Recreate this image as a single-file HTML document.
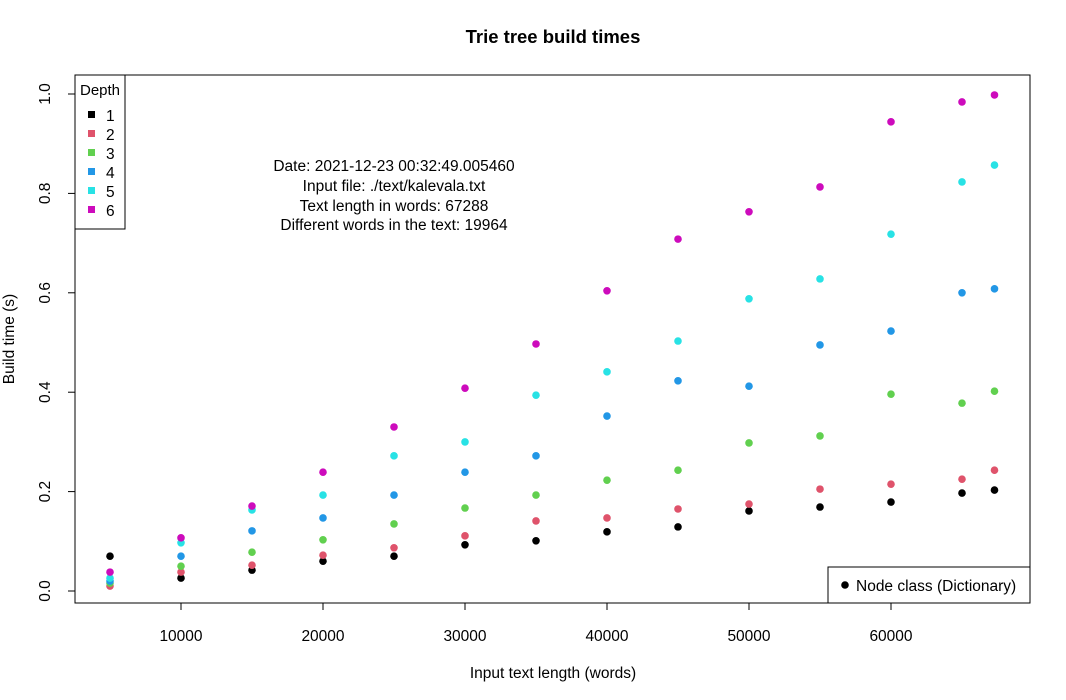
<!DOCTYPE html>
<html><head><meta charset="utf-8"><style>
body{margin:0;background:#fff;}
svg{display:block;font-family:"Liberation Sans",sans-serif;}
</style></head><body>
<svg id="chart" width="1066" height="700">
<text x="553" y="43" text-anchor="middle" font-size="18.5" font-weight="bold">Trie tree build times</text>
<rect x="75" y="75" width="955" height="528" fill="none" stroke="#000"/>
<text x="553" y="678" text-anchor="middle" font-size="15.5">Input text length (words)</text>
<text transform="translate(14,339) rotate(-90)" text-anchor="middle" font-size="15.5">Build time (s)</text>
<g font-size="15.5" text-anchor="middle">
<text x="394" y="171">Date: 2021-12-23 00:32:49.005460</text>
<text x="394" y="191">Input file: ./text/kalevala.txt</text>
<text x="394" y="211">Text length in words: 67288</text>
<text x="394" y="230">Different words in the text: 19964</text>
</g>
<g id="axes"></g>
<g id="marks"></g>
<g>
<rect x="75" y="75" width="50" height="154" fill="#fff" stroke="#000"/>
<text x="100" y="95" text-anchor="middle" font-size="15">Depth</text>
<g id="legitems"></g>
</g>
<g>
<rect x="828" y="567" width="202" height="36" fill="#fff" stroke="#000"/>
<circle cx="845" cy="585" r="3.8" fill="#000"/>
<text x="856" y="591" font-size="15.5">Node class (Dictionary)</text>
</g>
</svg>
<script>
const xValues=[5000,10000,15000,20000,25000,30000,35000,40000,45000,50000,55000,60000,65000,67288];
const depth1=[0.070,0.026,0.042,0.060,0.070,0.093,0.101,0.119,0.129,0.161,0.169,0.179,0.197,0.203];
const depth2=[0.010,0.038,0.052,0.072,0.087,0.111,0.141,0.147,0.165,0.175,0.205,0.215,0.225,0.243];
const depth3=[0.016,0.050,0.078,0.103,0.135,0.167,0.193,0.223,0.243,0.298,0.312,0.396,0.378,0.402];
const depth4=[0.020,0.070,0.121,0.147,0.193,0.239,0.272,0.352,0.423,0.412,0.495,0.523,0.600,0.608];
const depth5=[0.026,0.097,0.163,0.193,0.272,0.300,0.394,0.441,0.503,0.588,0.628,0.718,0.823,0.857];
const depth6=[0.038,0.107,0.171,0.239,0.330,0.408,0.497,0.604,0.708,0.763,0.813,0.944,0.984,0.998];
const colors=["#000000","#DF536B","#61D04F","#2297E6","#28E2E5","#CD0BBC"];
const xTicks=[10000,20000,30000,40000,50000,60000];
const yTicks=[0,0.2,0.4,0.6,0.8,1.0];
const yTickLabels=["0.0","0.2","0.4","0.6","0.8","1.0"];
const series=[depth1,depth2,depth3,depth4,depth5,depth6];
const NS="http://www.w3.org/2000/svg";
const xs=v=>39+v*0.0142;
const ys=v=>591-v*497;
const axes=document.getElementById('axes');
function mk(tag,attrs,parent){const e=document.createElementNS(NS,tag);for(const k in attrs)e.setAttribute(k,attrs[k]);parent.appendChild(e);return e;}
mk('line',{x1:xs(xTicks[0]),x2:xs(xTicks[xTicks.length-1]),y1:603,y2:603,stroke:'#000'},axes);
xTicks.forEach(t=>{
  const l=mk('line',{x1:xs(t),x2:xs(t),y1:603,y2:610,stroke:'#000'},axes);
  
  
  const tx=mk('text',{x:xs(t),y:641,'text-anchor':'middle','font-size':15.5},axes);
  tx.textContent=t;
  
  
});
mk('line',{x1:75,x2:75,y1:ys(0),y2:ys(1),stroke:'#000'},axes);
yTicks.forEach((t,i)=>{
  const l=mk('line',{x1:68,x2:75,y1:ys(t),y2:ys(t),stroke:'#000'},axes);
  
  
  const tx=mk('text',{transform:`translate(50,${ys(t)}) rotate(-90)`,'text-anchor':'middle','font-size':15.5},axes);
  tx.textContent=yTickLabels[i];
  
  
});
const marks=document.getElementById('marks');
series.forEach((s,si)=>{
  s.forEach((v,i)=>{
    const c=mk('circle',{cx:xs(xValues[i]),cy:ys(v),r:3.8,fill:colors[si]},marks);
    
    
  });
});
const leg=document.getElementById('legitems');
colors.forEach((c,i)=>{
  const y=115+i*19;
  const r=mk('rect',{x:88,y:y-4,width:7,height:7,fill:c},leg);
  
  
  const t=mk('text',{x:106,y:y+6,'font-size':15.5},leg);
  t.textContent=i+1;
  
  
});
</script>
</body></html>
